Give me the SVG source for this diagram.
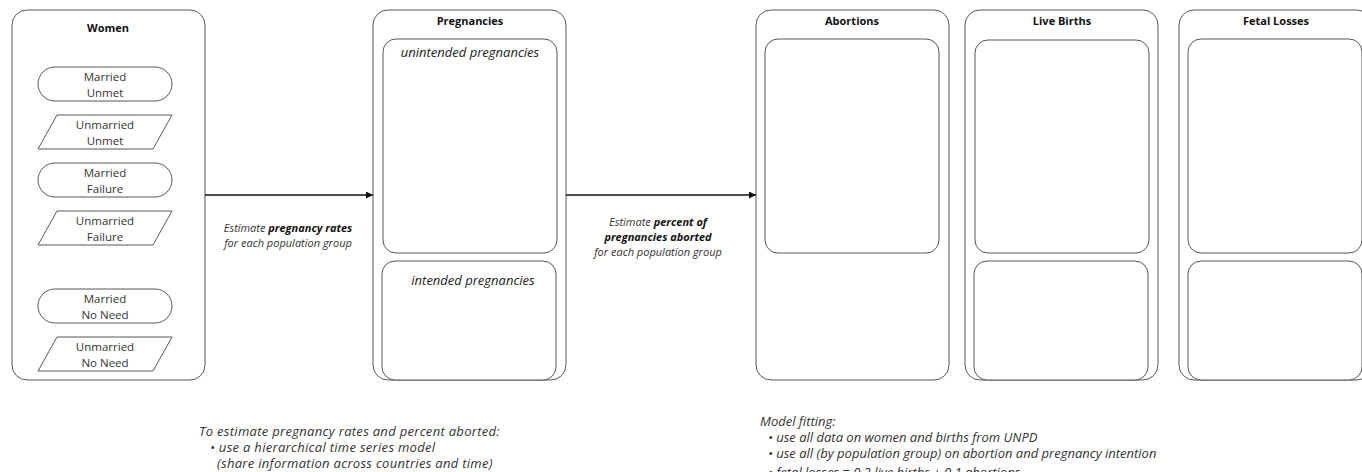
<svg xmlns="http://www.w3.org/2000/svg" width="1362" height="472" viewBox="0 0 1362 472">
<defs>
<marker id="ah" viewBox="0 0 10 10" refX="10" refY="5" markerWidth="7" markerHeight="7" markerUnits="userSpaceOnUse" orient="auto">
<path d="M0,0 L10,5 L0,10 z" fill="#111"/>
</marker>
</defs>
<style>
.box{fill:#fff;stroke:#555;stroke-width:1}
.inner{fill:#fff;stroke:#555;stroke-width:1}
.shape{fill:#fff;stroke:#444;stroke-width:0.9}
.title{font-family:"Open Sans","Lato",sans-serif;font-weight:bold;font-size:11px;fill:#111;text-anchor:middle}
.lbl{font-family:"Open Sans","Lato",sans-serif;font-size:11.5px;fill:#333;text-anchor:middle}
.sub{font-family:"Open Sans","Lato",sans-serif;font-style:italic;font-size:13px;fill:#222;text-anchor:middle}
.ital{font-family:"Open Sans","Lato",sans-serif;font-style:italic;font-size:11px;fill:#333;text-anchor:middle}
.note{font-family:"Open Sans","Lato",sans-serif;font-style:italic;font-size:13px;fill:#333}
.noteL{font-family:"Open Sans","Lato",sans-serif;font-style:italic;font-size:13px;letter-spacing:0.3px;fill:#333}
.b{font-weight:bold;fill:#111}
.conn{stroke:#111;stroke-width:1.3;fill:none}
</style>
<g id="women">
<rect class="box" x="12" y="10" width="193" height="370" rx="15"/>
<text class="title" x="108" y="32">Women</text>
<g id="married-unmet">
<rect class="shape" x="38" y="67" width="134" height="34" rx="17"/>
<text class="lbl" x="105" y="81">Married</text>
<text class="lbl" x="105" y="97">Unmet</text>
</g>
<g id="unmarried-unmet">
<polygon class="shape" points="57,115 172,115 153,149 38,149"/>
<text class="lbl" x="105" y="129">Unmarried</text>
<text class="lbl" x="105" y="145">Unmet</text>
</g>
<g id="married-failure">
<rect class="shape" x="38" y="163" width="134" height="34" rx="17"/>
<text class="lbl" x="105" y="177">Married</text>
<text class="lbl" x="105" y="193">Failure</text>
</g>
<g id="unmarried-failure">
<polygon class="shape" points="57,211 172,211 153,245 38,245"/>
<text class="lbl" x="105" y="225">Unmarried</text>
<text class="lbl" x="105" y="241">Failure</text>
</g>
<g id="married-noneed">
<rect class="shape" x="38" y="289" width="134" height="34" rx="17"/>
<text class="lbl" x="105" y="303">Married</text>
<text class="lbl" x="105" y="319">No Need</text>
</g>
<g id="unmarried-noneed">
<polygon class="shape" points="57,337 172,337 153,371 38,371"/>
<text class="lbl" x="105" y="351">Unmarried</text>
<text class="lbl" x="105" y="367">No Need</text>
</g>
</g>
<g id="pregnancies">
<rect class="box" x="373" y="10" width="193" height="370" rx="15"/>
<text class="title" x="470" y="25">Pregnancies</text>
<rect class="inner" x="383" y="39" width="174" height="214" rx="13"/>
<text class="sub" x="470" y="57">unintended pregnancies</text>
<rect class="inner" x="382" y="261" width="174" height="119" rx="13"/>
<text class="sub" x="473" y="285">intended pregnancies</text>
</g>
<g id="abortions">
<rect class="box" x="756" y="10" width="193" height="370" rx="15"/>
<text class="title" x="852" y="25">Abortions</text>
<rect class="inner" x="765" y="39" width="174" height="214" rx="13"/>
</g>
<g id="livebirths">
<rect class="box" x="965" y="10" width="193" height="370" rx="15"/>
<text class="title" x="1062" y="25">Live Births</text>
<rect class="inner" x="975" y="40" width="174" height="213" rx="13"/>
<rect class="inner" x="974" y="261" width="174" height="119" rx="13"/>
</g>
<g id="fetallosses">
<rect class="box" x="1179" y="10" width="193" height="370" rx="15"/>
<text class="title" x="1276" y="25">Fetal Losses</text>
<rect class="inner" x="1188" y="39" width="174" height="214" rx="13"/>
<rect class="inner" x="1188" y="261" width="174" height="119" rx="13"/>
</g>
<g id="connectors">
<line class="conn" x1="205" y1="195" x2="373" y2="195" marker-end="url(#ah)"/>
<line class="conn" x1="566" y1="195" x2="756" y2="195" marker-end="url(#ah)"/>
</g>
<g id="labels">
<text class="ital" x="288" y="232">Estimate <tspan class="b">pregnancy rates</tspan></text>
<text class="ital" x="288" y="247">for each population group</text>
<text class="ital" x="658" y="226">Estimate <tspan class="b">percent of</tspan></text>
<text class="ital" x="658" y="241"><tspan class="b">pregnancies aborted</tspan></text>
<text class="ital" x="658" y="256">for each population group</text>
</g>
<g id="notes">
<text class="noteL" x="199" y="436">To estimate pregnancy rates and percent aborted:</text>
<text class="noteL" x="210" y="452">• use a hierarchical time series model</text>
<text class="noteL" x="217" y="468">(share information across countries and time)</text>
<text class="note" x="760" y="426">Model fitting:</text>
<text class="note" x="768" y="442">• use all data on women and births from UNPD</text>
<text class="note" x="768" y="458">• use all (by population group) on abortion and pregnancy intention</text>
<text class="note" x="768" y="477">• fetal losses = 0.2 live births + 0.1 abortions</text>
</g>
</svg>
